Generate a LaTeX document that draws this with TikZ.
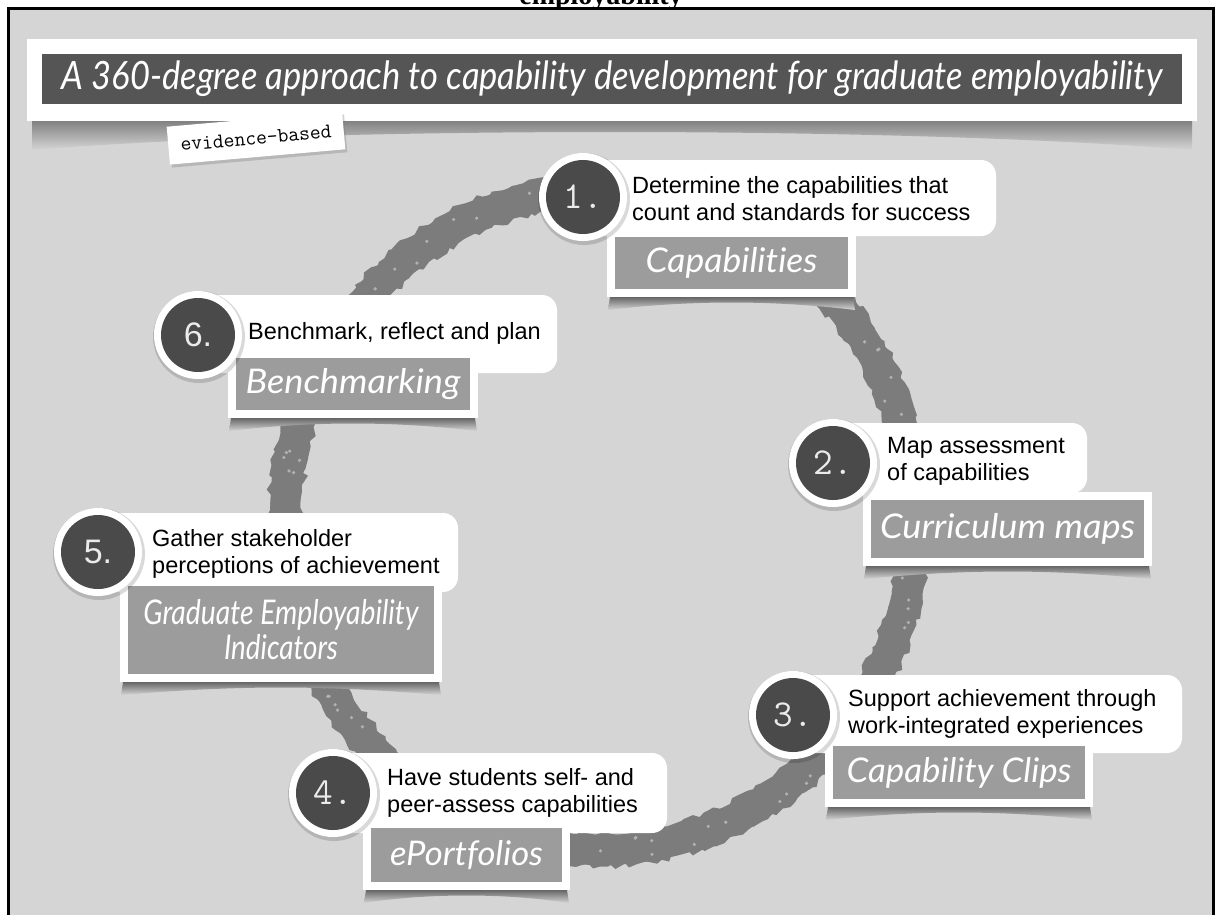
\documentclass[tikz,border=0pt]{standalone}
\usepackage{fontspec}
\usepackage{graphicx}
\newfontfamily\arialf{Liberation Sans}
\newfontfamily\timesf{Liberation Serif}
\newfontfamily\gillf{Lato}[Ligatures=NoCommon]
\usetikzlibrary{calc,decorations.pathmorphing,shadows}
\definecolor{bgc}{HTML}{D5D5D5}
\definecolor{barc}{HTML}{555555}
\definecolor{darkc}{HTML}{4A4A4A}
\definecolor{labc}{HTML}{9C9C9C}
\definecolor{ringc}{HTML}{7C7C7C}
\tikzset{
  bubble/.style={fill=white, rounded corners=15pt, inner sep=0pt},
  numring/.style={circle, fill=white, minimum size=88pt, inner sep=0pt},
  numdot/.style={circle, fill=darkc, minimum size=74pt, inner sep=0pt, text=white!92!black},
  monofont/.style={font=\ttfamily\fontsize{38pt}{38pt}\selectfont},
  sansfont/.style={font=\arialf\fontsize{34pt}{34pt}\selectfont},
  steptext/.style={anchor=west, align=left, inner sep=0pt, font=\arialf\fontsize{23.5pt}{27pt}\selectfont, text=black},
  labelbox/.style={fill=labc, draw=white, line width=8pt, inner sep=0pt, text=white, font=\gillf\itshape\fontsize{34pt}{35pt}\selectfont, align=center},
  bshadow/.style={black, opacity=0.12, rounded corners=16pt},
}
\newcommand\curl[1]{%
  \shade[top color=black!60, bottom color=bgc]
    ($(#1.south west)+(3,0)$) -- ($(#1.south east)+(-3,0)$) -- ($(#1.south east)+(-1,13)$)
    .. controls ($(#1.south)+(40,3)$) and ($(#1.south)+(-40,3)$) .. ($(#1.south west)+(1,13)$) -- cycle;}
\newcommand\bsh[1]{%
  \fill[bshadow] ($(#1.south west)+(-2,4)$) rectangle ($(#1.north east)+(3,-1)$);}
\newcommand\csh[1]{%
  \fill[black, opacity=0.15] ($(#1)+(1,2)$) circle (46);}
\begin{document}
\begin{tikzpicture}[x=1pt,y=-1pt]
\useasboundingbox (0,0) rectangle (1217,914);
% page and frame
\fill[white] (0,0) rectangle (1217,914);
\filldraw[fill=bgc, draw=black, line width=3pt] (8,8) rectangle (1213,940);
\node[anchor=base, font=\timesf\bfseries\fontsize{28pt}{28pt}\selectfont, inner sep=0pt] (cap) at (601,4) {employability};
% title band
\shade[top color=black!55, bottom color=bgc] (32,116) -- (1192,116) -- (1192,150) .. controls (900,126) and (320,126) .. (32,150) -- cycle;
\node[fill=white, minimum width=1170pt, minimum height=82pt, inner sep=0pt] (band) at (612,80) {};
\node[fill=barc, minimum width=1140pt, minimum height=50pt, inner sep=0pt, text=white,
      font=\gillf\itshape\fontsize{39pt}{40pt}\selectfont] (title) at (612,79)
  {\resizebox{1100pt}{\height}{A 360-degree approach to capability development for graduate employability}};
% ring
\pgfmathsetseed{7}
\draw[ringc, line width=30pt] (600,520) ellipse [x radius=315, y radius=330];
\foreach \d in {-14, 14}{
  \draw[ringc, line width=5pt, decorate, decoration={random steps, segment length=6pt, amplitude=3pt}]
    (600,520) ellipse [x radius=315+\d, y radius=330+\d];
}
\foreach \i in {1,...,110}{
  \pgfmathsetmacro\a{rnd*360}
  \pgfmathsetmacro\r{rnd*22-11}
  \fill[bgc!60!ringc] ({600+(315+\r)*cos(\a)},{520+(330+\r)*sin(\a)}) circle (1.8);
}
% evidence tag
\node[rotate=5, fill=white, minimum width=176pt, minimum height=38pt, inner sep=0pt,
      drop shadow={opacity=0.35, shadow xshift=2pt, shadow yshift=-3pt},
      font=\ttfamily\fontsize{21pt}{22pt}\selectfont] (tag) at (256,138) {evidence-based};

% ---- step 1
\node[bubble, minimum width=421pt, minimum height=76pt] (b1) at (785.5,198) {};
\node[steptext] (t1) at (632,199) {Determine the capabilities that\\count and standards for success};
\node[labelbox, minimum width=241pt, minimum height=60pt] (f1) at (731.5,263) {\resizebox{172pt}{\height}{Capabilities}};
\curl{f1}
\csh{583,197}
\node[numring] (r1) at (583,197) {};
\node[numdot, monofont] (n1) at (r1) {1.};

% ---- step 6
\node[bubble, minimum width=367pt, minimum height=78pt] (b6) at (373.5,334) {};
\node[steptext] (t6) at (248,333) {Benchmark, reflect and plan};
\node[labelbox, minimum width=242pt, minimum height=60pt] (f6) at (353,384) {\resizebox{215pt}{\height}{Benchmarking}};
\curl{f6}
\csh{198,335}
\node[numring] (r6) at (198,335) {};
\node[numdot, sansfont] (n6) at (r6) {6.};

% ---- step 2
\node[bubble, minimum width=267pt, minimum height=70pt] (b2) at (953.5,458) {};
\node[steptext] (t2) at (887,461) {Map assessment\\of capabilities};
\node[labelbox, minimum width=281pt, minimum height=66pt] (f2) at (1007.5,529) {\resizebox{255pt}{\height}{Curriculum maps}};
\curl{f2}
\csh{833,463}
\node[numring] (r2) at (833,463) {};
\node[numdot, monofont] (n2) at (r2) {2.};

% ---- step 5
\node[bubble, minimum width=378pt, minimum height=79pt] (b5) at (269,552.5) {};
\node[steptext] (t5) at (152,554) {Gather stakeholder\\perceptions of achievement};
\node[labelbox, minimum width=314pt, minimum height=96pt] (f5) at (281,630)
  {\resizebox{275pt}{\height}{Graduate Employability}\\\resizebox{114pt}{\height}{Indicators}};
\curl{f5}
\csh{98,552}
\node[numring] (r5) at (98,552) {};
\node[numdot, sansfont] (n5) at (r5) {5.};

% ---- step 3
\node[bubble, minimum width=402pt, minimum height=78pt] (b3) at (981,714) {};
\node[steptext] (t3) at (848,714) {Support achievement through\\work-integrated experiences};
\node[labelbox, minimum width=260pt, minimum height=61pt] (f3) at (959,772.5) {\resizebox{225pt}{\height}{Capability Clips}};
\curl{f3}
\csh{793,715}
\node[numring] (r3) at (793,715) {};
\node[numdot, monofont] (n3) at (r3) {3.};

% ---- step 4
\node[bubble, minimum width=347pt, minimum height=80pt] (b4) at (493.5,793) {};
\node[steptext] (t4) at (387,793) {Have students self- and\\peer-assess capabilities};
\node[labelbox, minimum width=199pt, minimum height=62pt] (f4) at (466.5,855) {\resizebox{153pt}{\height}{ePortfolios}};
\curl{f4}
\csh{333,793}
\node[numring] (r4) at (333,793) {};
\node[numdot, monofont] (n4) at (r4) {4.};
\end{tikzpicture}
\end{document}
